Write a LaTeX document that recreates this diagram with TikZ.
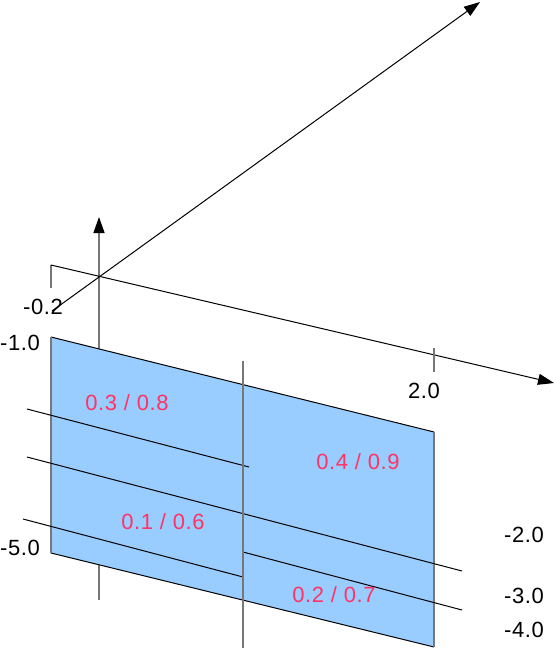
\documentclass[tikz,border=0pt]{standalone}
\usepackage{fontspec}
\setmainfont{Liberation Sans}[LetterSpace=3]
\usetikzlibrary{arrows.meta}
\definecolor{planeblue}{HTML}{99CCFF}
\definecolor{edgegray}{HTML}{777777}
\definecolor{valred}{HTML}{FF3366}
\tikzset{
  axisline/.style={line width=1pt, black},
  grayline/.style={line width=1.3pt, edgegray},
  headtip/.style={-{Triangle[length=16pt, width=11pt, black]}},
  ticklabel/.style={font=\fontsize{22}{26}\selectfont, inner sep=0pt},
  vallabel/.style={ticklabel, text=valred}
}

\begin{document}
\begin{tikzpicture}[x=1pt, y=-1pt, line join=miter]
  \useasboundingbox (0,0) rectangle (555,650);

  % Axes end points
  \coordinate (O)  at (99,600);   % vertical axis foot
  \coordinate (Oz) at (99,217);   % vertical axis tip
  \coordinate (D0) at (52,311);   % diagonal axis start
  \coordinate (D1) at (480,2);    % diagonal axis tip
  \coordinate (X0) at (51,265);   % slanted axis start
  \coordinate (X1) at (554,383);  % slanted axis tip
  \coordinate (T0) at (51,288);   % tick below start
  \coordinate (Ta) at (434,348);  % tick at 2.0
  \coordinate (Tb) at (434,372);

  % Plane corners
  \coordinate (A) at (51,337);
  \coordinate (B) at (434,432);
  \coordinate (C) at (434,647);
  \coordinate (E) at (51,553);

  % Middle cut
  \coordinate (M0) at (243,361);
  \coordinate (M1) at (243,648);

  % Level lines
  \coordinate (L1a) at (27,409);  \coordinate (L1b) at (249,467);
  \coordinate (L2a) at (27,457);  \coordinate (L2b) at (462,571);
  \coordinate (L3a) at (23,519);  \coordinate (L3b) at (243,577);
  \coordinate (L4a) at (243,552); \coordinate (L4b) at (462,610);

  % Vertical axis (hidden behind the plane)
  \draw[grayline, headtip] (O) -- (Oz);

  % The plane
  \fill[planeblue] (A) -- (B) -- (C) -- (E) -- cycle;
  \draw[axisline] (A) -- (B);
  \draw[axisline] (E) -- (C);
  \draw[grayline] (A) -- (E);
  \draw[grayline] (B) -- (C);

  % Slanted axis and ticks
  \draw[grayline] (T0) -- (X0);
  \draw[axisline, headtip] (X0) -- (X1);
  \draw[grayline] (Ta) -- (Tb);

  % Diagonal axis
  \draw[axisline, headtip] (D0) -- (D1);

  % Level lines and the middle cut
  \draw[axisline] (L1a) -- (L1b);
  \draw[axisline] (L2a) -- (L2b);
  \draw[axisline] (L3a) -- (L3b);
  \draw[axisline] (L4a) -- (L4b);
  \draw[grayline] (M0) -- (M1);

  % Tick labels
  \node[ticklabel] (lm02) at (43,307) {-0.2};
  \node[ticklabel] (lm10) at (20,343) {-1.0};
  \node[ticklabel] (lm50) at (20,548) {-5.0};
  \node[ticklabel] (l20)  at (424,391) {2.0};
  \node[ticklabel] (lm20) at (524,535) {-2.0};
  \node[ticklabel] (lm30) at (524,596) {-3.0};
  \node[ticklabel] (lm40) at (524,630) {-4.0};

  % Values in the cells
  \node[vallabel] (v38) at (127,403) {0.3 / 0.8};
  \node[vallabel] (v16) at (163,522) {0.1 / 0.6};
  \node[vallabel] (v49) at (358,462) {0.4 / 0.9};
  \node[vallabel] (v27) at (334,595) {0.2 / 0.7};
\end{tikzpicture}
\end{document}
